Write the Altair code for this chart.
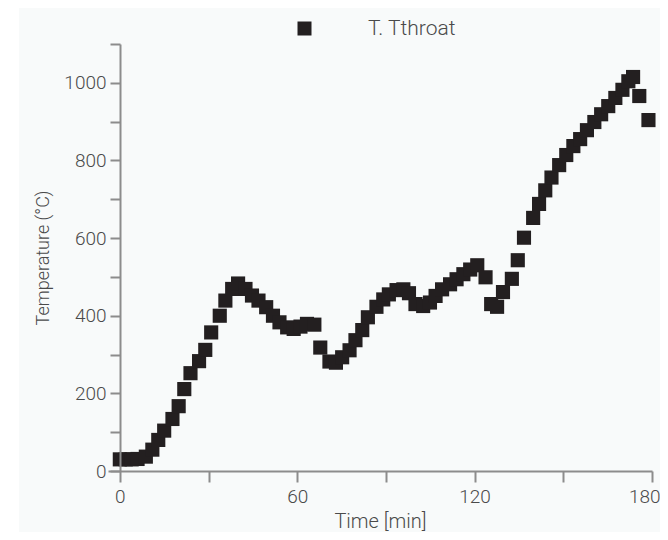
import altair as alt
import pandas as pd

series_name = "T. Tthroat"

time_min = [0, 2, 4, 6, 8.8, 11, 13, 15, 17.8, 19.9, 21.8, 23.9, 26.8, 28.9, 30.9,
            33.8, 35.7, 38, 40, 42.5, 44.7, 46.9, 49.5, 51.8, 54, 56.6, 58.8, 61.1,
            63.3, 65.8, 67.8, 70.9, 73.1, 75.2, 77.7, 79.7, 82, 83.9, 86.8, 89.1,
            91, 93.6, 95.9, 97.8, 100, 102.6, 104.9, 106.8, 109, 111.7, 113.9,
            116.2, 118.5, 120.9, 123.7, 125.6, 127.6, 129.6, 132.6, 134.6, 136.7,
            139.8, 141.8, 143.9, 146, 148.6, 151, 153.4, 155.7, 158, 160.5, 162.8,
            165.2, 167.6, 170, 172, 173.6, 175.7, 178.8]

temperature = [30, 30, 30, 31, 37, 55, 80, 104, 134, 167, 211, 252, 283, 312, 357,
               400, 439, 469, 483, 469, 452, 439, 422, 400, 383, 370, 366, 372,
               379, 377, 318, 282, 279, 293, 311, 337, 363, 396, 423, 442,
               455, 466, 468, 458, 430, 425, 434, 451, 468, 481, 494,
               507, 519, 530, 499, 430, 423, 461, 495, 543, 601,
               652, 688, 723, 756, 788, 814, 837, 855, 878, 899, 919,
               940, 961, 982, 1004, 1015, 966, 904]

x_ticks = [0, 30, 60, 90, 120, 150, 180]
y_ticks = [0, 100, 200, 300, 400, 500, 600, 700, 800, 900, 1000, 1100]

df = pd.DataFrame({"t": time_min, "T": temperature, "s": [series_name] * len(time_min)})

FONT = "Roboto"
FW = 300
TXT = "#4a4a4a"
AX = "#8c8c8c"

bg = alt.Chart(pd.DataFrame({"a": [0]})).mark_rect(color="#f8fafa").encode(
    x=alt.value(-89), x2=alt.value(560), y=alt.value(-36), y2=alt.value(500)
)

pts = alt.Chart(df).mark_square(size=200, opacity=1, filled=True).encode(
    x=alt.X("t:Q", scale=alt.Scale(domain=[-4, 180], nice=False, zero=False),
            axis=alt.Axis(values=x_ticks, title="Time [min]", format="d",
                          labelExpr="datum.value % 60 == 0 ? datum.label : ''",
                          labelFlush=True, labelFlushOffset=8,
                          grid=False, tickSize=11, tickWidth=2, domainWidth=2,
                          domainColor=AX, tickColor=AX, labelPadding=5,
                          titlePadding=5, titleFontSize=20, zindex=1)),
    y=alt.Y("T:Q", scale=alt.Scale(domain=[0, 1100], nice=False),
            axis=alt.Axis(values=y_ticks, title="Temperature (°C)", format="d",
                          labelExpr="datum.value % 200 == 0 ? datum.label : ''",
                          grid=False, tickSize=10, tickWidth=2, domainWidth=2,
                          domainColor=AX, tickColor=AX, offset=-12, labelPadding=4,
                          titlePadding=11, titleFontSize=18, zindex=1)),
    color=alt.Color("s:N", scale=alt.Scale(range=["#231f20"]),
                    legend=alt.Legend(title=None, orient="none", legendX=186,
                                      legendY=-26, symbolType="square",
                                      symbolSize=196, labelOffset=53, zindex=1)),
)

chart = alt.layer(bg, pts).properties(
    width=544, height=427,
    padding={"left": 100, "top": 36, "right": 8, "bottom": 61},
    autosize=alt.AutoSizeParams(type="none"),
    background="white",
).configure_view(stroke=None).configure_axis(
    labelFont=FONT, titleFont=FONT, labelFontSize=19,
    labelFontWeight=FW, titleFontWeight=FW,
    labelColor=TXT, titleColor=TXT,
).configure_legend(labelFont=FONT, labelFontSize=21, labelFontWeight=FW,
                   labelColor=TXT)

chart.save("out.html", embed_options={"renderer": "svg", "actions": False})
